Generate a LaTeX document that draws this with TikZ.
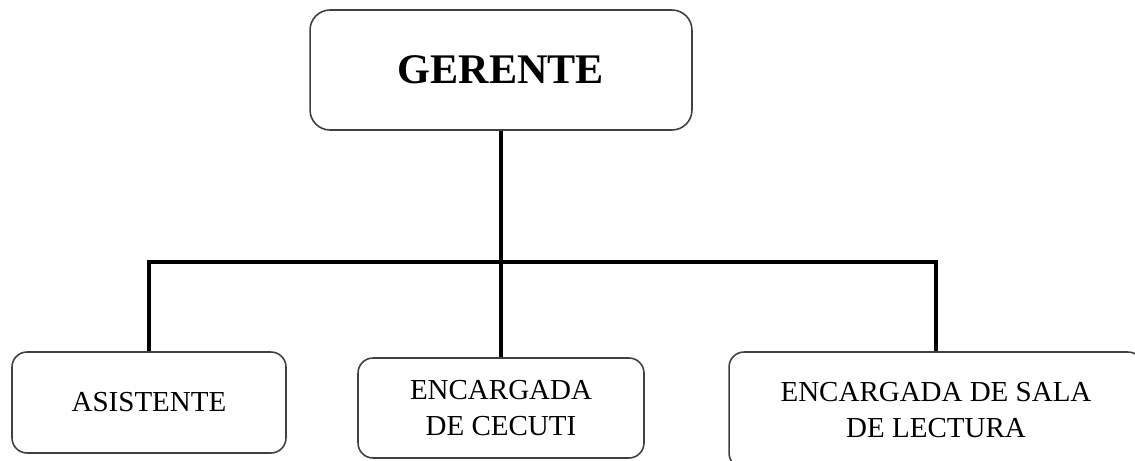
\documentclass[tikz,border=0pt]{standalone}
\usepackage{fontspec}
\setmainfont{Liberation Serif}
\usepackage{tikz}
\tikzset{
	cargo/.style={draw=black!75, line width=0.9pt, rounded corners=0.3cm, inner sep=0pt, align=center, font=\fontsize{16.5}{20}\selectfont},
	jefe/.style={cargo, rounded corners=0.4cm, font=\fontsize{24}{28}\selectfont\bfseries},
	linea/.style={line width=2.3pt, color=black}
}

\begin{document}
\begin{tikzpicture}[x=0.02cm, y=-0.02cm]
			%%%%% START %%%%%
			
			\useasboundingbox (0, 0) rectangle (1135, 460);
			\clip (0, 0) rectangle (1135, 460);
			
			\node[jefe, minimum width=7.64cm, minimum height=2.4cm] (ger) at (501, 70) {GERENTE};
			
			\node[cargo, minimum width=5.48cm, minimum height=2.02cm] (asis) at (149, 402.5) {ASISTENTE};
			\node[cargo, minimum width=5.72cm, minimum height=2.0cm] (cecuti) at (501, 408) {ENCARGADA\\DE CECUTI};
			\node[cargo, minimum width=8.28cm, minimum height=2.32cm] (sala) at (936, 410) {ENCARGADA DE SALA\\DE LECTURA};
			
			\coordinate (jm) at (501, 262);
			
			\draw[linea] (ger.south) -- (cecuti.north);
			\draw[linea] (asis.north) |- (jm) -| (sala.north);
			
			%%%%% END %%%%%
		\end{tikzpicture}
\end{document}
